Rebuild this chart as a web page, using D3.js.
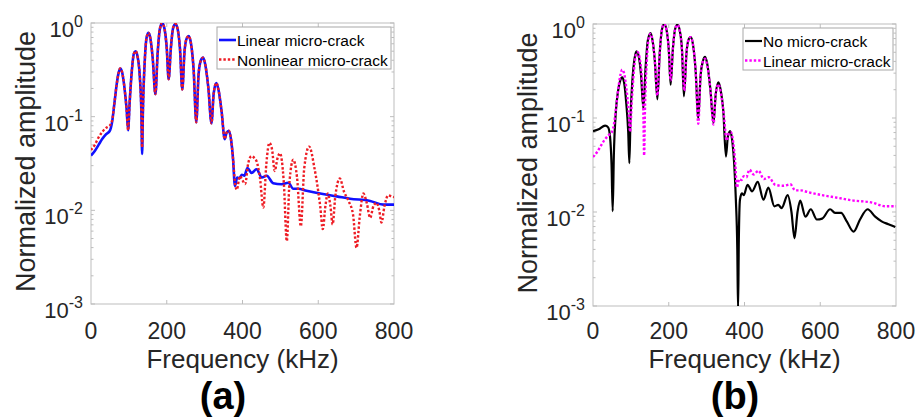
<!DOCTYPE html>
<html>
<head>
<meta charset="utf-8">
<script src="https://cdn.jsdelivr.net/npm/d3@7"></script>
<style>
  body { margin: 0; background: #fff; }
  svg text { font-family: "Liberation Sans", Arial, Helvetica, sans-serif; }
</style>
</head>
<body>
<div id="chart"></div>
<script>
// values: [frequency kHz, normalized amplitude]
const linearCrack = [
  [0,0.0385],[10,0.043],[20,0.050],[30,0.058],[40,0.065],[50,0.071],[56,0.089],[62,0.141],[68,0.224],[73,0.295],
  [77,0.327],[82,0.30],[88,0.209],[94,0.120],[98,0.0715],[102,0.141],[108,0.316],[113,0.468],[118,0.50],[123,0.437],
  [129,0.263],[133,0.112],[135,0.040],[137,0.112],[142,0.398],[147,0.708],[152,0.785],[157,0.676],[163,0.417],[170,0.174],
  [176,0.479],[182,0.871],[188,1.0],[194,0.871],[200,0.537],[205,0.251],[211,0.55],[217,0.891],[223,0.977],[229,0.851],
  [235,0.525],[241,0.195],[247,0.501],[253,0.692],[258,0.724],[264,0.603],[271,0.316],[278,0.087],[284,0.282],[290,0.398],
  [296,0.427],[302,0.355],[310,0.20],[318,0.085],[324,0.178],[331,0.229],[337,0.19],[345,0.112],[353,0.0575],[358,0.0676],
  [364,0.0708],[370,0.056],[375,0.0355],[380,0.0182],[386,0.0224],[392,0.0219],[398,0.024],[405,0.0234],[413,0.0282],[424,0.0251],
  [437,0.0275],[451,0.0224],[464,0.0234],[481,0.0195],[503,0.019],[521,0.0197],[534,0.017],[547,0.017],[569,0.0162],[605,0.0151],
  [649,0.0141],[684,0.0133],[737,0.0126],[772,0.0115],[800,0.0115]
];

const nonlinearCrack = [
  [0,0.044],[10,0.050],[20,0.060],[30,0.069],[40,0.076],[47,0.079],[52,0.083],[56,0.092],[62,0.141],[68,0.224],[73,0.295],
  [77,0.327],[82,0.30],[88,0.209],[94,0.120],[98,0.0715],[102,0.141],[108,0.316],[113,0.468],[118,0.50],[123,0.437],
  [129,0.263],[133,0.112],[135,0.047],[137,0.112],[142,0.398],[147,0.708],[152,0.785],[157,0.676],[163,0.417],[170,0.174],
  [176,0.479],[182,0.871],[188,1.0],[194,0.871],[200,0.537],[205,0.251],[211,0.55],[217,0.891],[223,0.977],[229,0.851],
  [235,0.525],[241,0.195],[247,0.501],[253,0.692],[258,0.724],[264,0.603],[271,0.316],[278,0.087],[284,0.282],[290,0.398],
  [296,0.427],[302,0.355],[310,0.20],[318,0.085],[324,0.178],[331,0.229],[337,0.19],[345,0.112],[353,0.0575],[358,0.0676],
  [364,0.0708],[370,0.056],[375,0.0355],[380,0.020],[385,0.0166],[393,0.0232],[400,0.0209],[407,0.0191],[415,0.0316],[424,0.038],
  [431,0.0363],[437,0.0335],[446,0.0224],[455,0.0107],[463,0.0316],[471,0.0525],[478,0.0447],[485,0.0263],[492,0.0355],[499,0.0407],
  [509,0.020],[517,0.00468],[524,0.020],[534,0.0347],[544,0.0224],[554,0.00676],[563,0.0282],[576,0.0479],[590,0.0282],[605,0.0112],
  [612,0.0063],[619,0.0112],[625,0.0151],[632,0.0112],[638,0.00708],[645,0.0141],[657,0.0219],[668,0.0158],[680,0.0126],[692,0.00891],
  [701,0.00398],[710,0.00891],[719,0.0151],[728,0.0120],[737,0.00832],[746,0.0112],[754,0.0120],[761,0.0100],[767,0.00741],[775,0.0112],
  [785,0.0145],[793,0.0141],[800,0.0138]
];

const noCrack = [
  [0,0.0724],[15,0.0759],[32,0.083],[40,0.0794],[45,0.063],[49,0.0316],[52,0.0102],[55,0.0398],[60,0.112],[66,0.191],
  [72,0.251],[77,0.271],[82,0.240],[88,0.141],[93,0.0708],[96,0.0331],[99,0.100],[104,0.251],[110,0.437],[115,0.513],
  [121,0.447],[127,0.282],[133,0.126],[139,0.355],[145,0.676],[152,0.80],[157,0.676],[163,0.417],[170,0.158],[176,0.479],
  [182,0.871],[188,1.0],[194,0.871],[200,0.537],[205,0.226],[211,0.55],[217,0.891],[223,0.984],[229,0.851],[235,0.525],
  [240,0.17],[247,0.501],[253,0.692],[258,0.724],[264,0.603],[271,0.316],[278,0.10],[284,0.282],[290,0.40],[296,0.447],
  [302,0.37],[310,0.20],[318,0.089],[324,0.178],[331,0.24],[337,0.20],[344,0.12],[351,0.0389],[356,0.063],[362,0.0724],
  [368,0.056],[373,0.0316],[377,0.0141],[381,0.004],[383,0.0009],[385,0.005],[388,0.0135],[393,0.0158],[398,0.0151],[408,0.0195],
  [420,0.0166],[435,0.0209],[450,0.0135],[463,0.0182],[479,0.0115],[489,0.0119],[498,0.011],[514,0.0151],[524,0.010],[532,0.00525],
  [540,0.010],[547,0.0132],[561,0.00891],[575,0.0107],[591,0.00832],[605,0.00851],[626,0.0107],[639,0.00977],[655,0.00977],[670,0.00794],
  [688,0.00617],[705,0.00832],[725,0.0107],[745,0.00891],[762,0.00794],[780,0.00741],[798,0.00692]
];

const xTicks = [0, 200, 400, 600, 800];
const yDecades = [1, 0.1, 0.01, 0.001];
const yExponents = ["0", "-1", "-2", "-3"];
const panelLabels = ["(a)", "(b)"];
const legendLeft = ["Linear micro-crack", "Nonlinear micro-crack"];
const legendRight = ["No micro-crack", "Linear micro-crack"];

const W = 918, H = 418;
const svg = d3.select("#chart").append("svg")
  .attr("width", W).attr("height", H)
  .style("display", "block");

const font = "'Liberation Sans', Arial, Helvetica, sans-serif";
const textColor = "#262626";
const frameColor = "#bdbdbd";

const panels = [
  {left: 91, right: 394, top: 23, bottom: 304, letterX: 223, legendW: 174,
   series: [
     {data: linearCrack, color: "#1010ff", dash: null, width: 2.6, name: legendLeft[0]},
     {data: nonlinearCrack, color: "#ee1c24", dash: "2.4,2", width: 2.4, name: legendLeft[1]}
   ]},
  {left: 593, right: 896, top: 24, bottom: 306, letterX: 735, legendW: 150,
   series: [
     {data: noCrack, color: "#000000", dash: null, width: 2.2, name: legendRight[0]},
     {data: linearCrack, color: "#ff00ff", dash: "2.4,2", width: 2.4, name: legendRight[1]}
   ]}
];

panels.forEach(function (p, pi) {
  const g = svg.append("g").attr("font-family", font);

  const x = d3.scaleLinear().domain([0, 800]).range([p.left, p.right]);
  const y = d3.scaleLog().domain([0.001, 1]).range([p.bottom, p.top]);

  // frame
  g.append("rect")
    .attr("x", p.left).attr("y", p.top)
    .attr("width", p.right - p.left).attr("height", p.bottom - p.top)
    .attr("fill", "#fff").attr("stroke", frameColor).attr("stroke-width", 1);

  // inward ticks, both sides like matlab
  xTicks.slice(1, -1).forEach(function (t) {
    g.append("line").attr("x1", x(t)).attr("x2", x(t))
      .attr("y1", p.bottom).attr("y2", p.bottom - 4)
      .attr("stroke", frameColor);
    g.append("line").attr("x1", x(t)).attr("x2", x(t))
      .attr("y1", p.top).attr("y2", p.top + 4)
      .attr("stroke", frameColor);
  });
  y.ticks().forEach(function (t) {
    const major = yDecades.indexOf(t) >= 0;
    const len = major ? 4 : 2.5;
    [[p.left, len], [p.right, -len]].forEach(function (s) {
      g.append("line").attr("x1", s[0]).attr("x2", s[0] + s[1])
        .attr("y1", y(t)).attr("y2", y(t))
        .attr("stroke", frameColor);
    });
  });

  // curves
  const clipId = "clip" + pi;
  svg.append("clipPath").attr("id", clipId)
    .append("rect")
    .attr("x", p.left).attr("y", p.top)
    .attr("width", p.right - p.left).attr("height", p.bottom - p.top);

  const line = d3.line()
    .x(d => x(d[0]))
    .y(d => y(Math.max(d[1], 0.0007)))
    .curve(d3.curveMonotoneX);

  p.series.forEach(function (s) {
    g.append("path")
      .attr("clip-path", "url(#" + clipId + ")")
      .attr("d", line(s.data))
      .attr("fill", "none")
      .attr("stroke", s.color)
      .attr("stroke-width", s.width)
      .attr("stroke-dasharray", s.dash)
      .attr("stroke-linejoin", "round");
  });

  // x tick labels
  xTicks.forEach(function (t) {
    g.append("text")
      .attr("x", x(t)).attr("y", 339)
      .attr("text-anchor", "middle")
      .attr("font-size", 23)
      .attr("fill", textColor)
      .text(t);
  });

  // y tick labels: 10 with superscript
  yDecades.forEach(function (t, i) {
    const txt = g.append("text")
      .attr("x", p.left - 8).attr("y", y(t) + 14)
      .attr("text-anchor", "end")
      .attr("font-size", 22)
      .attr("fill", textColor);
    txt.append("tspan").text("10");
    txt.append("tspan").attr("dy", -10).attr("font-size", 16).text(yExponents[i]);
  });

  // axis titles
  g.append("text")
    .attr("x", (p.left + p.right) / 2).attr("y", 368)
    .attr("text-anchor", "middle")
    .attr("font-size", 26)
    .attr("fill", textColor)
    .text("Frequency (kHz)");

  g.append("text")
    .attr("transform", "translate(" + (p.left - 56) + "," + ((p.top + p.bottom) / 2 - 2) + ") rotate(-90)")
    .attr("text-anchor", "middle")
    .attr("font-size", 27)
    .attr("fill", textColor)
    .text("Normalized amplitude");

  g.append("text")
    .attr("x", p.letterX).attr("y", 409)
    .attr("text-anchor", "middle")
    .attr("font-size", 38)
    .attr("font-weight", "bold")
    .attr("fill", "#000")
    .text(panelLabels[pi]);

  // legend
  const lx = p.right - 3 - p.legendW, ly = p.top + 4;
  g.append("rect")
    .attr("x", lx).attr("y", ly)
    .attr("width", p.legendW).attr("height", 42)
    .attr("fill", "#fff").attr("stroke", "#a8a8a8").attr("stroke-width", 1);
  p.series.forEach(function (s, i) {
    const cy = ly + 13 + i * 19.5;
    g.append("line")
      .attr("x1", lx + 2).attr("x2", lx + 19)
      .attr("y1", cy).attr("y2", cy)
      .attr("stroke", s.color)
      .attr("stroke-width", s.width)
      .attr("stroke-dasharray", s.dash);
    g.append("text")
      .attr("x", lx + 20).attr("y", cy + 6)
      .attr("font-size", 15.5)
      .attr("fill", "#000")
      .text(s.name);
  });
});
</script>
</body>
</html>
